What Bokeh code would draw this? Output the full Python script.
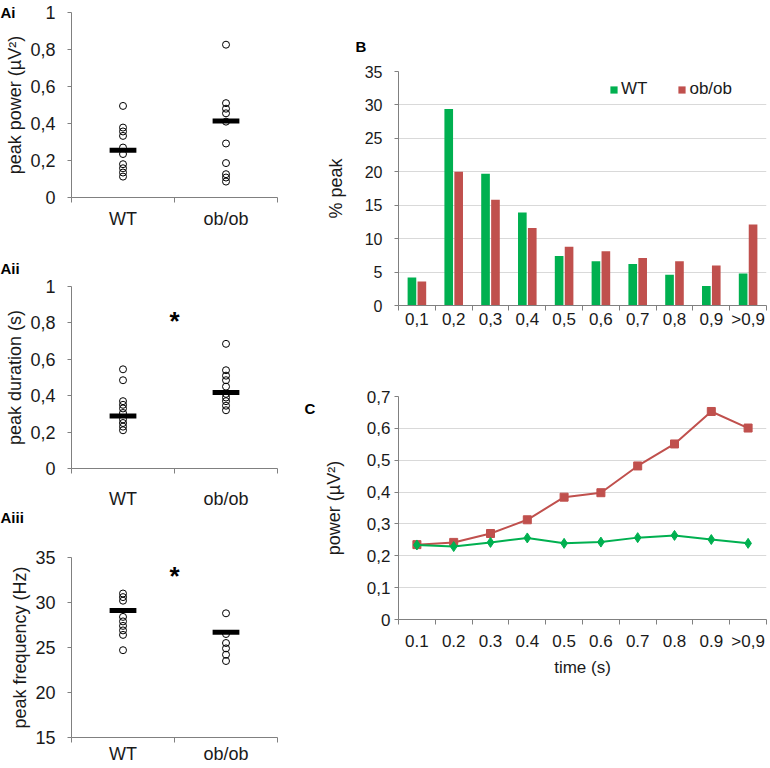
import numpy as np
from bokeh.plotting import figure
from bokeh.layouts import row, column
from bokeh.models import (FixedTicker, CustomJSTickFormatter, Legend, LegendItem,
                          Range1d, Title)
from bokeh.embed import file_html
from bokeh.resources import INLINE
from bokeh.core.properties import value

# ---------------- data ----------------
groups = ["WT", "ob/ob"]

power_wt = [0.495, 0.378, 0.357, 0.333, 0.27, 0.235, 0.18, 0.158, 0.135, 0.113]
power_ob = [0.826, 0.51, 0.48, 0.455, 0.41, 0.292, 0.186, 0.126, 0.108, 0.086]
power_mean = [0.255, 0.414]

dur_wt = [0.545, 0.485, 0.37, 0.35, 0.33, 0.305, 0.27, 0.25, 0.23, 0.21]
dur_ob = [0.685, 0.54, 0.51, 0.485, 0.45, 0.41, 0.39, 0.37, 0.345, 0.32]
dur_mean = [0.288, 0.418]
dur_star = 0.81

freq_wt = [31.0, 30.6, 30.2, 28.4, 27.9, 27.4, 26.9, 26.4, 24.7]
freq_ob = [28.8, 26.5, 25.5, 24.9, 24.2, 23.5]
freq_mean = [29.1, 26.7]
freq_star = 33.0

bins_b = ["0,1", "0,2", "0,3", "0,4", "0,5", "0,6", "0,7", "0,8", "0,9", ">0,9"]
pct_wt = [4.2, 29.4, 19.7, 13.9, 7.4, 6.6, 6.2, 4.6, 2.9, 4.8]
pct_ob = [3.6, 20.0, 15.8, 11.6, 8.8, 8.1, 7.1, 6.6, 6.0, 12.1]

bins_c = ["0.1", "0.2", "0.3", "0.4", "0.5", "0.6", "0.7", "0.8", "0.9", ">0,9"]
pow_wt = [0.234, 0.229, 0.242, 0.256, 0.239, 0.243, 0.257, 0.264, 0.251, 0.239]
pow_ob = [0.235, 0.242, 0.270, 0.313, 0.384, 0.398, 0.482, 0.551, 0.653, 0.601]

GREEN = "#00B050"
RED = "#C0504D"
AXIS = "#808080"
GRID = "#D9D9D9"
TXT = "#1a1a1a"
FONT = "Liberation Sans"

comma_fmt = CustomJSTickFormatter(code="return (Math.round(tick*10)/10).toString().replace('.', ',');")


def base_fig(w, h, mbl, mbr, mbt, mbb):
    p = figure(width=w, height=h, output_backend="svg", toolbar_location=None,
               min_border_left=mbl, min_border_right=mbr, min_border_top=mbt,
               min_border_bottom=mbb)
    p.outline_line_color = None
    p.background_fill_color = None
    p.border_fill_color = None
    return p


def style_axes(p, ysize, xsize):
    for ax in (p.xaxis[0], p.yaxis[0]):
        ax.axis_line_color = AXIS
        ax.axis_line_width = 1
        ax.major_label_text_font = FONT
        ax.major_label_text_color = TXT
        ax.axis_label_text_font = FONT
        ax.axis_label_text_font_style = "normal"
        ax.axis_label_text_color = TXT
    p.yaxis.major_label_text_font_size = ysize
    p.xaxis.major_label_text_font_size = xsize
    p.yaxis.major_tick_line_color = AXIS
    p.yaxis.major_tick_out = 4
    p.yaxis.major_tick_in = 0
    p.yaxis.minor_tick_line_color = None
    p.xaxis.major_tick_line_color = None
    p.xaxis.major_tick_out = 0
    p.xaxis.major_tick_in = 0
    p.xaxis.minor_tick_line_color = AXIS
    p.xaxis.minor_tick_out = 5
    p.xaxis.minor_tick_in = 0


def style_tag(t, text, offset, standoff, valign):
    t.text = text
    t.align = "left"
    t.offset = offset
    t.standoff = standoff
    t.vertical_align = valign
    t.text_font = FONT
    t.text_font_size = "15px"
    t.text_font_style = "bold"
    t.text_color = "black"


def a_panel(h, mbt, mbb, wt, ob, means, y0, y1, yticks, ylabel, xstand, star=None):
    p = base_fig(298, h, 71, 21, mbt, mbb)
    p.x_range = Range1d(0, len(groups))
    p.y_range = Range1d(y0, y1)
    centers = np.arange(len(groups)) + 0.5
    xs = np.concatenate([np.full(len(wt), centers[0]), np.full(len(ob), centers[1])])
    ys = np.concatenate([wt, ob])
    p.scatter(xs, ys, marker="circle", size=7, fill_color=None, line_color="black", line_width=1)
    p.segment(x0=centers - 0.13, x1=centers + 0.13, y0=means, y1=means,
              line_width=5, line_color="black", line_cap="butt")
    if star is not None:
        p.text(x=[len(groups) / 2], y=[star], text=["*"], text_font=value(FONT),
               text_font_style="bold", text_font_size="26px", text_align="center",
               text_baseline="middle", text_color="black")
    p.xaxis.ticker = FixedTicker(ticks=list(centers), minor_ticks=list(range(len(groups) + 1)))
    p.xaxis.formatter = CustomJSTickFormatter(args=dict(labels=groups),
                                              code="return labels[Math.round(tick - 0.5)];")
    p.yaxis.ticker = FixedTicker(ticks=yticks)
    p.yaxis.formatter = comma_fmt
    p.xgrid.visible = False
    p.ygrid.visible = False
    style_axes(p, "18px", "18px")
    p.yaxis.axis_label = ylabel
    p.yaxis.axis_label_text_font_size = "18px"
    p.yaxis.major_label_standoff = 12
    p.yaxis.axis_label_standoff = 2
    p.xaxis.major_label_standoff = xstand
    return p


a1 = a_panel(246, 12, 49, power_wt, power_ob, power_mean, 0, 1,
             [0, 0.2, 0.4, 0.6, 0.8, 1.0], "peak power (µV²)", 6)
style_tag(a1.title, "Ai", -71, -16, "bottom")

a2 = a_panel(286, 40, 64, dur_wt, dur_ob, dur_mean, 0, 1,
             [0, 0.2, 0.4, 0.6, 0.8, 1.0], "peak duration (s)", 15, star=dur_star)
style_tag(a2.title, "Aii", -71, 19, "bottom")
t3 = Title()
style_tag(t3, "Aiii", -71, -6, "top")
a2.add_layout(t3, "below")

a3 = a_panel(234, 25, 29, freq_wt, freq_ob, freq_mean, 15, 35,
             [15, 20, 25, 30, 35], "peak frequency (Hz)", 1, star=freq_star)

# ---------------- B ----------------
nb = len(bins_b)
cb = np.arange(nb) + 0.5
b = base_fig(470, 350, 100, 2, 71, 45)
b.x_range = Range1d(0, nb)
b.y_range = Range1d(0, 35)
r_wt = b.vbar(x=cb - 0.135, top=pct_wt, width=0.235, fill_color=GREEN, line_color=None)
r_ob = b.vbar(x=cb + 0.135, top=pct_ob, width=0.235, fill_color=RED, line_color=None)
b.xaxis.ticker = FixedTicker(ticks=list(cb), minor_ticks=list(range(nb + 1)))
b.xaxis.formatter = CustomJSTickFormatter(args=dict(labels=bins_b),
                                          code="return labels[Math.round(tick - 0.5)];")
yt_b = [0, 5, 10, 15, 20, 25, 30, 35]
b.yaxis.ticker = FixedTicker(ticks=yt_b)
b.ygrid.ticker = FixedTicker(ticks=yt_b)
b.xgrid.visible = False
b.ygrid.grid_line_color = GRID
style_axes(b, "16px", "17px")
b.yaxis.axis_label = "% peak"
b.yaxis.axis_label_text_font_size = "18px"
b.yaxis.major_label_standoff = 12
b.yaxis.axis_label_standoff = 16
b.xaxis.major_label_standoff = -1
leg = Legend(items=[LegendItem(label="WT", renderers=[r_wt]),
                    LegendItem(label="ob/ob", renderers=[r_ob])],
             orientation="horizontal", location=(211, 206), glyph_width=9, glyph_height=9,
             label_standoff=3, spacing=30, padding=0, margin=0, label_height=9,
             border_line_color=None, background_fill_alpha=0,
             label_text_font=FONT, label_text_font_size="17px", label_text_color=TXT)
b.add_layout(leg)
style_tag(b.title, "B", -43, 34, "bottom")

# ---------------- C ----------------
nc = len(bins_c)
cc = np.arange(nc) + 0.5
c = base_fig(470, 416, 100, 2, 46, 147)
c.x_range = Range1d(0, nc)
c.y_range = Range1d(0, 0.7)
c.line(cc, pow_ob, line_color=RED, line_width=2)
c.scatter(cc, pow_ob, marker="square", size=8, fill_color=RED, line_color=RED)
c.line(cc, pow_wt, line_color=GREEN, line_width=2)
c.scatter(cc, pow_wt, marker="diamond", size=10, fill_color=GREEN, line_color=GREEN)
c.xaxis.ticker = FixedTicker(ticks=list(cc), minor_ticks=list(range(nc + 1)))
c.xaxis.formatter = CustomJSTickFormatter(args=dict(labels=bins_c),
                                          code="return labels[Math.round(tick - 0.5)];")
yt_c = [0, 0.1, 0.2, 0.3, 0.4, 0.5, 0.6, 0.7]
c.yaxis.ticker = FixedTicker(ticks=yt_c)
c.ygrid.ticker = FixedTicker(ticks=yt_c)
c.yaxis.formatter = comma_fmt
c.xgrid.visible = False
c.ygrid.grid_line_color = GRID
style_axes(c, "17px", "17px")
c.yaxis.axis_label = "power (µV²)"
c.yaxis.axis_label_text_font_size = "18px"
c.yaxis.major_label_standoff = 4
c.yaxis.axis_label_standoff = 20
c.xaxis.axis_label = "time (s)"
c.xaxis.axis_label_text_font_size = "17px"
c.xaxis.major_label_standoff = 7
c.xaxis.axis_label_standoff = 4
style_tag(c.title, "\u00a0\n\u00a0\nC", -94, -41, "bottom")

layout = row(column(a1, a2, a3), column(b, c))
open("out.html", "w").write(file_html(layout, INLINE))
